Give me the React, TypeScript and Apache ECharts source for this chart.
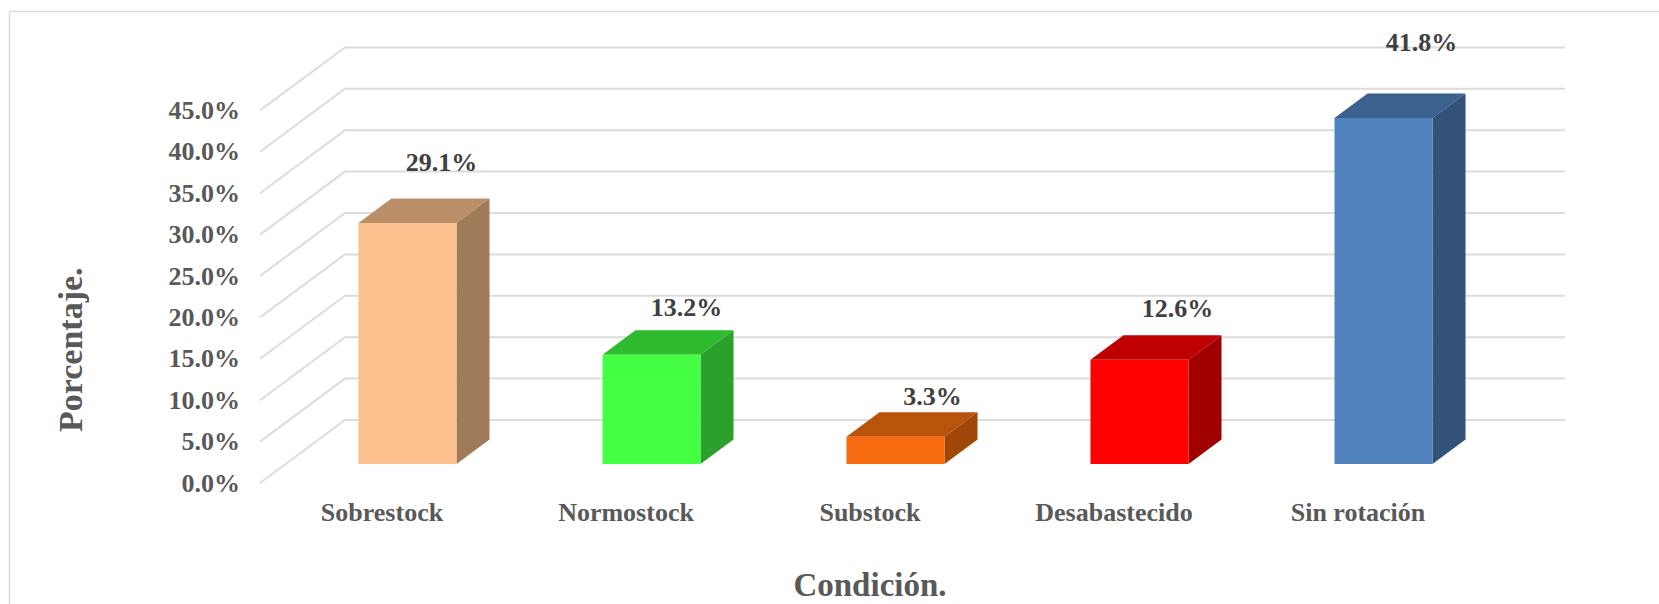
import React, { useEffect, useRef } from "react";
import * as echarts from "echarts";

const categories = ["Sobrestock", "Normostock", "Substock", "Desabastecido", "Sin rotación"];
const values = [29.1, 13.2, 3.3, 12.6, 41.8];
const gridTicks = [0, 5, 10, 15, 20, 25, 30, 35, 40, 45];
const frontColors = ["#FBC08D", "#44FF44", "#F76B10", "#FF0000", "#4F81BD"];
const topColors = ["#BB8F6A", "#2EBB2E", "#B9520B", "#BF0000", "#3B618E"];
const sideColors = ["#9F7B59", "#2BA02B", "#9F4708", "#A00000", "#325278"];
const labelLift = [61, 47, 40, 51, 75];
const labelShift = [34, 35, 37, 38, 38];

const FONT = '"Liberation Serif", serif';
const WALL = { dx: 85, dy: -63 };
const BAR = { dx: 25.5, dy: -19, width: 98, depthX: 33, depthY: -24.5 };

export default function App() {
  const ref = useRef<HTMLDivElement>(null);
  useEffect(() => {
    const chart = echarts.init(ref.current!, undefined, { renderer: "svg" });
    chart.setOption({
      animation: false,
      backgroundColor: "#ffffff",
      graphic: [
        { type: "line", shape: { x1: 9.5, y1: 11.5, x2: 1659, y2: 11.5 }, style: { stroke: "#d9d9d9", lineWidth: 1.5 } },
        { type: "line", shape: { x1: 9.5, y1: 11.5, x2: 9.5, y2: 604 }, style: { stroke: "#d9d9d9", lineWidth: 1.5 } },
      ],
      grid: { left: 260, top: 110.4, width: 1220, height: 372.6, containLabel: false, outerBoundsMode: "none" },
      xAxis: {
        type: "category",
        data: categories,
        axisLine: { show: false },
        axisTick: { show: false },
        axisLabel: { color: "#595959", fontFamily: FONT, fontWeight: "bold", fontSize: 26, margin: 16 },
        name: "Condición.",
        nameLocation: "middle",
        nameGap: 85,
        nameTextStyle: { color: "#595959", fontFamily: FONT, fontWeight: "bold", fontSize: 33 },
      },
      yAxis: {
        type: "value",
        min: 0,
        max: 45,
        interval: 5,
        splitLine: { show: false },
        axisLine: { show: false },
        axisTick: { show: false },
        axisLabel: {
          color: "#595959",
          fontFamily: FONT,
          fontWeight: "bold",
          fontSize: 26,
          margin: 20,
          formatter: (v: number) => v.toFixed(1) + "%",
        },
        name: "Porcentaje.",
        nameLocation: "middle",
        nameGap: 173,
        nameRotate: 90,
        nameTextStyle: {
          color: "#595959",
          fontFamily: FONT,
          fontWeight: "bold",
          fontSize: 34,
          padding: [0, 106, 0, 0],
        },
      },
      series: [
        {
          type: "custom",
          silent: true,
          z: 1,
          data: gridTicks.map((t) => [0, t]),
          encode: { x: 0, y: 1 },
          renderItem: (params: any, api: any) => {
            const y = api.coord([0, api.value(1)])[1];
            const cs = params.coordSys;
            return {
              type: "polyline",
              shape: {
                points: [
                  [cs.x, y],
                  [cs.x + WALL.dx, y + WALL.dy],
                  [cs.x + cs.width + WALL.dx, y + WALL.dy],
                ],
              },
              style: { stroke: "#dcdcdc", lineWidth: 2, fill: "none" },
            };
          },
        },
        {
          type: "custom",
          silent: true,
          z: 2,
          data: values.map((v, i) => [i, v]),
          encode: { x: 0, y: 1 },
          renderItem: (params: any, api: any) => {
            const i = api.value(0);
            const v = api.value(1);
            const top = api.coord([i, v]);
            const base = api.coord([i, 0]);
            const xl = top[0] + BAR.dx - BAR.width / 2;
            const xr = xl + BAR.width;
            const yt = top[1] + BAR.dy;
            const yb = base[1] + BAR.dy;
            const { depthX: dx, depthY: dy } = BAR;
            return {
              type: "group",
              children: [
                {
                  type: "polygon",
                  shape: { points: [[xl, yt], [xr, yt], [xr + dx, yt + dy], [xl + dx, yt + dy]] },
                  style: { fill: topColors[i] },
                },
                {
                  type: "polygon",
                  shape: { points: [[xr, yt], [xr + dx, yt + dy], [xr + dx, yb + dy], [xr, yb]] },
                  style: { fill: sideColors[i] },
                },
                {
                  type: "rect",
                  shape: { x: xl, y: yt, width: BAR.width, height: yb - yt },
                  style: { fill: frontColors[i] },
                },
                {
                  type: "text",
                  style: {
                    text: v.toFixed(1) + "%",
                    x: xl + BAR.width / 2 + labelShift[i],
                    y: yt - labelLift[i],
                    align: "center",
                    verticalAlign: "middle",
                    fill: "#404040",
                    font: `bold 26px ${FONT}`,
                  },
                },
              ],
            };
          },
        },
      ],
    });
    return () => chart.dispose();
  }, []);
  return <div ref={ref} style={{ position: "absolute", left: 0, top: 0, width: 1659, height: 604 }} />;
}
